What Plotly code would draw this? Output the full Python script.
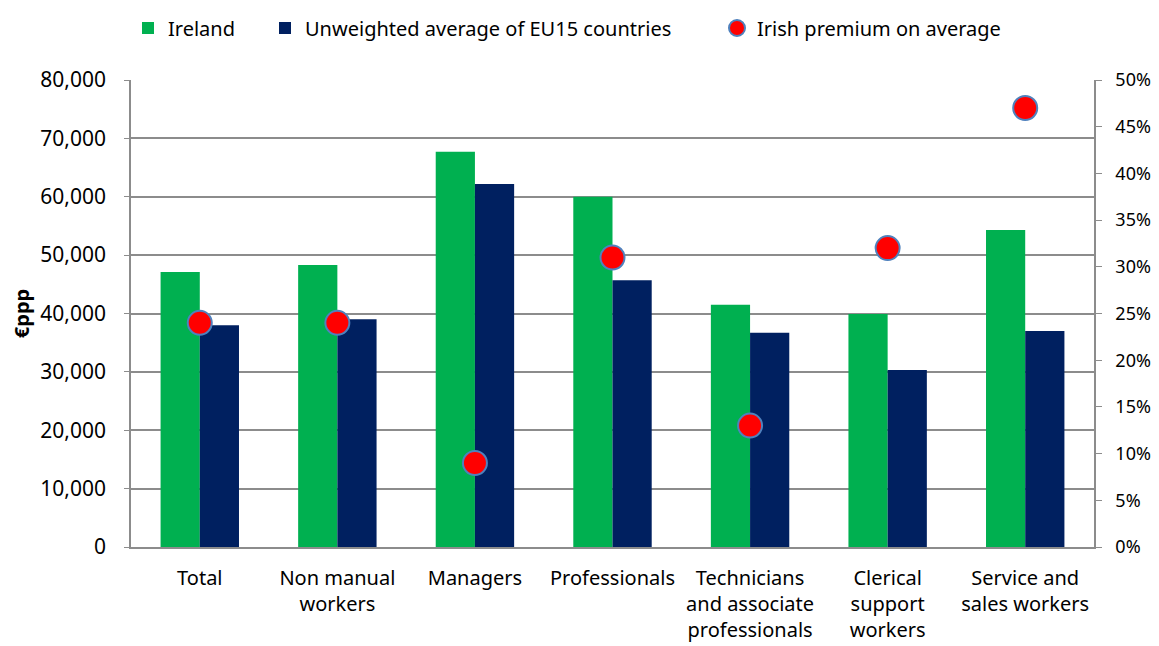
import plotly.graph_objects as go

categories = ["Total", "Non manual<br>workers", "Managers", "Professionals",
              "Technicians<br>and associate<br>professionals",
              "Clerical<br>support<br>workers", "Service and<br>sales workers"]
ireland = [47100, 48300, 67700, 60000, 41500, 39900, 54300]
eu15_avg = [38000, 39000, 62200, 45700, 36700, 30300, 37000]
premium = [0.24, 0.24, 0.09, 0.31, 0.13, 0.32, 0.47]

# page has an 8px body margin, so the figure is sized to fit the 1159x646 window
W, H = 1151, 638
FONT = "Noto Sans"
GRID = "#8c8c8c"

fig = go.Figure()
fig.add_trace(go.Bar(x=categories, y=ireland, name="Ireland",
                     marker=dict(color="#00B050", line=dict(width=0)),
                     legend="legend"))
fig.add_trace(go.Bar(x=categories, y=eu15_avg, name="Unweighted average of EU15 countries",
                     marker=dict(color="#002060", line=dict(width=0)),
                     legend="legend2"))
fig.add_trace(go.Scatter(x=categories, y=premium, name="Irish premium on average",
                         mode="markers", yaxis="y2",
                         marker=dict(color="#FF0000", size=24,
                                     line=dict(color="#4F81BD", width=2)),
                         legend="legend3"))

def leg(xpx):
    return dict(orientation="h", xref="container", yref="container",
                x=xpx / W, y=1 - 20 / H, xanchor="left", yanchor="middle",
                font=dict(family=FONT, size=20, color="#000000"),
                bgcolor="rgba(0,0,0,0)", borderwidth=0)

fig.update_layout(
    width=W, height=H,
    margin=dict(l=123, r=65, t=72, b=99, autoexpand=False),
    paper_bgcolor="white", plot_bgcolor="white",
    font=dict(family=FONT, size=20, color="#000000"),
    barmode="group", bargap=0.43, bargroupgap=0,
    showlegend=True,
    legend=leg(120), legend2=leg(257), legend3=leg(709),
    xaxis=dict(showline=True, linecolor=GRID, linewidth=1.5, automargin=False,
               ticks="", tickfont=dict(family=FONT, size=20), showgrid=False,
               ticklabelstandoff=12),
    yaxis=dict(range=[0, 80000], dtick=10000, tickformat=",d", automargin=False,
               showgrid=True, gridcolor=GRID, gridwidth=1.5,
               showline=True, linecolor=GRID, linewidth=1.5,
               ticks="outside", ticklen=5, tickcolor=GRID,
               ticklabelstandoff=14, tickfont=dict(family=FONT, size=21),
               title=dict(text="<b>€ppp</b>", font=dict(family=FONT, size=20), standoff=23),
               zeroline=False),
    yaxis2=dict(range=[0, 0.5], dtick=0.05, tickformat=".0%", overlaying="y",
                side="right", showgrid=False, automargin=False,
                showline=True, linecolor=GRID, linewidth=1.5,
                ticks="outside", ticklen=6, tickcolor=GRID,
                ticklabelstandoff=10, tickfont=dict(family=FONT, size=18),
                zeroline=False),
)

fig.write_html("out.html")
